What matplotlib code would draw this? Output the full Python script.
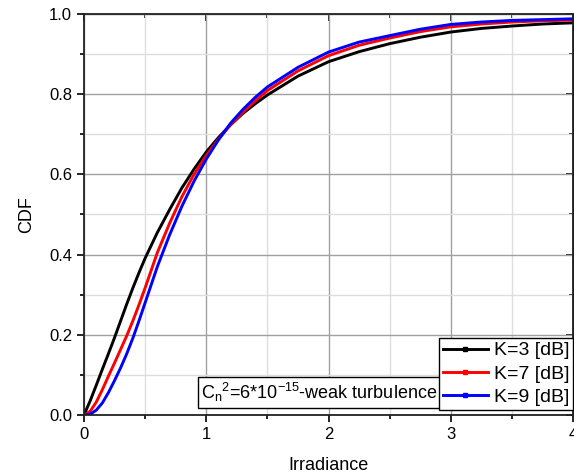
import numpy as np
import matplotlib
matplotlib.use('Agg')
import matplotlib.pyplot as plt
from matplotlib.lines import Line2D
from matplotlib.ticker import MultipleLocator

plt.rcParams['font.family'] = ['Liberation Sans', 'DejaVu Sans']
plt.rcParams['mathtext.fontset'] = 'custom'
plt.rcParams['mathtext.rm'] = 'Liberation Sans'
plt.rcParams['mathtext.default'] = 'regular'

# --- 読み取ったデータ ---
irr = [0, 0.05, 0.1, 0.15, 0.2, 0.25, 0.3, 0.35, 0.4, 0.45, 0.5, 0.6, 0.7, 0.8, 0.9, 1.0,
       1.1, 1.2, 1.3, 1.4, 1.5, 1.75, 2.0, 2.25, 2.5, 2.75, 3.0, 3.25, 3.5, 3.75, 4.0]
cdf_k3 = [0, 0.035, 0.074, 0.114, 0.153, 0.193, 0.235, 0.277, 0.317, 0.355, 0.391, 0.455, 0.512,
          0.566, 0.613, 0.656, 0.692, 0.724, 0.752, 0.776, 0.798, 0.845, 0.881, 0.906, 0.926,
          0.942, 0.955, 0.964, 0.97, 0.975, 0.978]
cdf_k7 = [0, 0.009, 0.032, 0.063, 0.097, 0.13, 0.164, 0.198, 0.235, 0.275, 0.317, 0.405, 0.478,
          0.544, 0.6, 0.647, 0.688, 0.724, 0.755, 0.783, 0.809, 0.858, 0.896, 0.922, 0.94,
          0.956, 0.968, 0.975, 0.98, 0.983, 0.985]
cdf_k9 = [0, 0.002, 0.012, 0.03, 0.056, 0.086, 0.118, 0.153, 0.192, 0.235, 0.28, 0.37, 0.449,
          0.52, 0.583, 0.638, 0.686, 0.728, 0.762, 0.792, 0.818, 0.867, 0.905, 0.93, 0.946,
          0.962, 0.974, 0.98, 0.984, 0.986, 0.988]
labels = ["K=3 [dB]", "K=7 [dB]", "K=9 [dB]"]
colors = ["black", "red", "blue"]

fig = plt.figure(figsize=(5.74, 4.74), dpi=100)
ax = fig.add_axes([84/574, 1-415/474, 489/574, 401/474])

# --- グリッド ---
ax.xaxis.set_major_locator(MultipleLocator(1))
ax.xaxis.set_minor_locator(MultipleLocator(0.5))
ax.yaxis.set_major_locator(MultipleLocator(0.2))
ax.yaxis.set_minor_locator(MultipleLocator(0.1))
ax.grid(which='major', color='#a0a0a0', linewidth=1.0)
ax.grid(which='minor', color='#dedede', linewidth=1.0)
ax.set_axisbelow(True)

for y, c, lab in zip([cdf_k3, cdf_k7, cdf_k9], colors, labels):
    ax.plot(irr, y, color=c, linewidth=2.1, label=lab)

ax.set_xlim(0, 4)
ax.set_ylim(0, 1.0)
ax.set_xticks([0, 1, 2, 3, 4])
ax.set_xticklabels(['0', '1', '2', '3', '4'])
ax.set_yticks([0, 0.2, 0.4, 0.6, 0.8, 1.0])
ax.set_yticklabels(['0.0', '0.2', '0.4', '0.6', '0.8', '1.0'])
ax.tick_params(which='both', direction='out', labelsize=12, width=1.2, colors='black')
ax.tick_params(which='major', length=5)
ax.tick_params(which='minor', length=3)
for s in ax.spines.values():
    s.set_linewidth(1.3)
    s.set_color('#222222')

# 上・右は内向き目盛
top = ax.secondary_xaxis('top')
top.xaxis.set_major_locator(MultipleLocator(1))
top.xaxis.set_minor_locator(MultipleLocator(0.5))
top.tick_params(which='both', direction='in', labeltop=False, width=1.2)
top.tick_params(which='major', length=5)
top.tick_params(which='minor', length=3)
right = ax.secondary_yaxis('right')
right.yaxis.set_major_locator(MultipleLocator(0.2))
right.yaxis.set_minor_locator(MultipleLocator(0.1))
right.tick_params(which='both', direction='in', labelright=False, width=1.2)
right.tick_params(which='major', length=5)
right.tick_params(which='minor', length=3)

ax.set_xlabel('Irradiance', fontsize=13, labelpad=11)
ax.set_ylabel('CDF', fontsize=13, labelpad=10)

handles = [Line2D([0], [0], color=c, linewidth=2.1, marker='s', markersize=3) for c in colors]
leg = ax.legend(handles, labels, loc='lower right', bbox_to_anchor=(1.0, 0.012),
                fontsize=14, frameon=True, fancybox=False, framealpha=1,
                borderpad=0.2, labelspacing=0.3, handlelength=2.3, handletextpad=0.3,
                borderaxespad=0.0, numpoints=1)
leg.get_frame().set_edgecolor('black')
leg.get_frame().set_linewidth(1.0)

ax.text(0.96, 0.027, r'$C_n{}^{2}$=6*10$^{-15}$-weak turbulence', transform=ax.transData,
        fontsize=13, va='bottom', ha='left',
        bbox=dict(boxstyle='square,pad=0.2', facecolor='white', edgecolor='black', linewidth=1.0))

fig.savefig('out.png', dpi=100)
